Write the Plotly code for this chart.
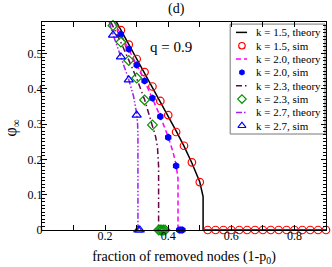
import plotly.graph_objects as go

# ---- data ----
th15_x = [0.236, 0.25, 0.275, 0.3, 0.325, 0.35, 0.375, 0.4, 0.425, 0.45, 0.475, 0.5, 0.505, 0.509, 0.5105, 0.5105, 0.9]
th15_y = [0.59, 0.567, 0.527, 0.487, 0.447, 0.407, 0.366, 0.325, 0.281, 0.238, 0.19, 0.136, 0.12, 0.105, 0.095, 0.0, 0.0]

sim15_x = [0.25, 0.275, 0.3, 0.325, 0.35, 0.375, 0.4, 0.425, 0.45, 0.475, 0.5,
           0.525, 0.55, 0.575, 0.6, 0.625, 0.65, 0.675, 0.7, 0.725, 0.75, 0.775, 0.8, 0.825, 0.85, 0.875, 0.9]
sim15_y = [0.567, 0.526, 0.485, 0.448, 0.407, 0.366, 0.326, 0.278, 0.239, 0.192, 0.136,
           0, 0, 0, 0, 0, 0, 0, 0, 0, 0, 0, 0, 0, 0, 0, 0]

th20_x = [0.229, 0.25, 0.275, 0.3, 0.325, 0.35, 0.375, 0.4, 0.415, 0.425, 0.429, 0.431, 0.431]
th20_y = [0.59, 0.555, 0.514, 0.469, 0.423, 0.374, 0.322, 0.264, 0.222, 0.185, 0.163, 0.145, 0.0]

sim20_x = [0.25, 0.275, 0.3, 0.325, 0.35, 0.375, 0.4, 0.425, 0.435, 0.44, 0.445]
sim20_y = [0.555, 0.513, 0.468, 0.423, 0.374, 0.322, 0.263, 0.182, 0, 0, 0]

th23_x = [0.218, 0.225, 0.25, 0.275, 0.3, 0.325, 0.35, 0.36, 0.366, 0.369, 0.3695, 0.3695]
th23_y = [0.59, 0.578, 0.532, 0.482, 0.43, 0.37, 0.3, 0.265, 0.235, 0.205, 0.18, 0.0]

sim23_x = [0.225, 0.25, 0.275, 0.3, 0.325, 0.35, 0.37, 0.375, 0.38, 0.385, 0.39]
sim23_y = [0.58, 0.533, 0.481, 0.431, 0.369, 0.298, 0, 0, 0, 0, 0]

th27_x = [0.213, 0.225, 0.25, 0.275, 0.29, 0.3, 0.303, 0.304, 0.304]
th27_y = [0.59, 0.555, 0.491, 0.426, 0.38, 0.33, 0.3, 0.27, 0.0]

sim27_x = [0.225, 0.25, 0.275, 0.3, 0.305, 0.31]
sim27_y = [0.553, 0.491, 0.426, 0.326, 0, 0]

x_ticks = [0.2, 0.4, 0.6, 0.8]
x_minor = [0.1, 0.3, 0.5, 0.7, 0.9]

FONT = "Liberation Serif"

# series: (name, x, y, kind, color, style, size)
series = [
    ("k = 1.5, theory", th15_x, th15_y, "line", "#000000", "solid", 1.5),
    ("k = 1.5, sim", sim15_x, sim15_y, "marker", "#FF0000", "circle-open", 7.5),
    ("k = 2.0, theory", th20_x, th20_y, "line", "#FF00FF", "5px,3px", 1.5),
    ("k = 2.0, sim", sim20_x, sim20_y, "marker", "#0000FF", "hexagon", 6),
    ("k = 2.3, theory", th23_x, th23_y, "line", "#670748", "6px,3px,1.5px,3px", 1.5),
    ("k = 2.3, sim", sim23_x, sim23_y, "marker", "#009400", "diamond-open", 7.5),
    ("k = 2.7, theory", th27_x, th27_y, "line", "#A020F0", "6px,2px,1.5px,2px,1.5px,2px", 1.5),
    ("k = 2.7, sim", sim27_x, sim27_y, "marker", "#0000FF", "triangle-up-open", 8),
]

fig = go.Figure()

for name, x, y, kind, color, style, size in series:
    if kind == "line":
        fig.add_trace(go.Scatter(x=x, y=y, mode="lines", name=name, showlegend=False,
                                 line=dict(color=color, width=size, dash=style)))
    else:
        fig.add_trace(go.Scatter(x=x, y=y, mode="markers", name=name, cliponaxis=False,
                                 showlegend=False,
                                 marker=dict(symbol=style, size=size, color=color,
                                             line=dict(color=color, width=1.2))))

# ---- hand-built compact legend (paper-fraction overlay axes) ----
leg_x0, leg_x1, leg_top, leg_bot = 0.6626, 0.9965, 0.990, 0.4615
row_top, row_step = 0.950, 0.0641
samp_x0, samp_x1, samp_xc, text_x = 0.683, 0.722, 0.704, 0.745

fig.add_shape(type="rect", xref="paper", yref="paper", x0=leg_x0, x1=leg_x1,
              y0=leg_bot, y1=leg_top, line=dict(color="#777777", width=1),
              fillcolor="white", layer="below")

for i, (name, x, y, kind, color, style, size) in enumerate(series):
    yc = row_top - i * row_step
    if kind == "line":
        fig.add_trace(go.Scatter(x=[samp_x0, samp_x1], y=[yc, yc], mode="lines",
                                 xaxis="x2", yaxis="y2", showlegend=False, hoverinfo="skip",
                                 line=dict(color=color, width=size, dash=style)))
    else:
        fig.add_trace(go.Scatter(x=[samp_xc], y=[yc], mode="markers",
                                 xaxis="x2", yaxis="y2", showlegend=False, hoverinfo="skip",
                                 marker=dict(symbol=style, size=size - 1, color=color,
                                             line=dict(color=color, width=1.2))))
    fig.add_annotation(text=name, xref="paper", yref="paper", x=text_x, y=yc,
                       xanchor="left", yanchor="middle", showarrow=False,
                       font=dict(family=FONT, size=11, color="black"))

axis_common = dict(showline=True, linecolor="black", linewidth=1, mirror="ticks",
                   ticks="inside", tickcolor="black", ticklen=5, showgrid=False,
                   zeroline=False, automargin=False,
                   tickfont=dict(family=FONT, size=12, color="black"))

fig.update_layout(
    xaxis=dict(range=[0, 0.9], tickmode="array", tickvals=x_ticks,
               ticktext=[str(v) for v in x_ticks], ticklabelstandoff=-5,
               minor=dict(tickmode="array", tickvals=x_minor, ticks="inside", ticklen=5, tickcolor="black"),
               title=dict(text="fraction of removed nodes (1-p<sub>0</sub>)",
                          font=dict(family=FONT, size=14, color="black"), standoff=8),
               **axis_common),
    yaxis=dict(range=[0, 0.59], dtick=0.1, tick0=0, ticklabelstandoff=-4,
               minor=dict(dtick=0.01, ticks="inside", ticklen=3, tickcolor="black"),
               **axis_common),
    xaxis2=dict(overlaying="x", range=[0, 1], visible=False, fixedrange=True, automargin=False),
    yaxis2=dict(overlaying="y", range=[0, 1], visible=False, fixedrange=True, automargin=False),
)

# y-axis title (placed as rotated text to sit close to the left edge)
fig.add_annotation(text="φ<sub>∞</sub>", xref="paper", yref="paper", x=-0.108, y=0.49,
                   xanchor="center", yanchor="middle", textangle=-90, showarrow=False,
                   font=dict(family=FONT, size=16, color="black"))
fig.add_annotation(text="(d)", xref="paper", yref="paper", x=0.473, y=1.0, yshift=13,
                   xanchor="center", yanchor="middle",
                   showarrow=False, font=dict(family=FONT, size=14, color="black"))
fig.add_annotation(text="q = 0.9", xref="paper", yref="paper", x=0.455, y=0.93,
                   showarrow=False, font=dict(family=FONT, size=15, color="black"))

fig.update_layout(
    width=332, height=267,
    margin=dict(l=41.5, r=6, t=22, b=37),
    paper_bgcolor="white", plot_bgcolor="white",
    showlegend=False,
)

fig.write_html("out.html", config={"displayModeBar": False, "staticPlot": True},
               post_script="document.body.style.margin='0';document.body.style.overflow='hidden';")
